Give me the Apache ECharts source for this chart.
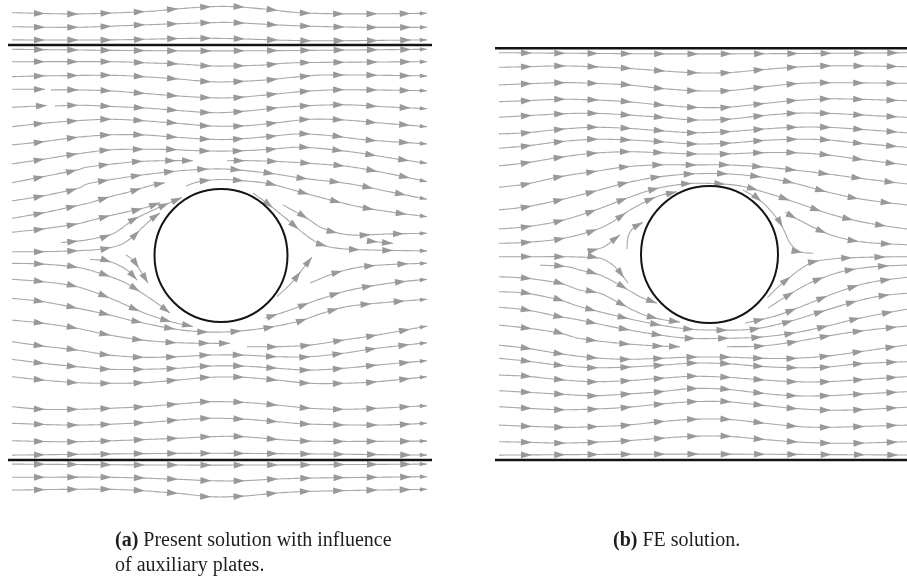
<!DOCTYPE html>
<html>
<head>
<meta charset="utf-8">
<script src="https://cdn.jsdelivr.net/npm/echarts@6/dist/echarts.min.js"></script>
<style>
  html, body { margin: 0; padding: 0; background: #ffffff; }
  #chart { width: 907px; height: 581px; }
</style>
</head>
<body>
<div id="chart"></div>
<script>
// Flow past a cylinder between two plates. Coordinates are measured from the
// cylinder centre (x downstream, y up). Every streamline is a flat list
// [x0, y0, x1, y1, ...] of points along it, in flow direction.

// ---------- (a) present solution ----------
const cylinderA = [0, 0, 33.25];          // centre x, centre y, radius
const platesA = [105.25, -102.25];        // plate y positions
const plateSpanA = [-106.5, 105.5];       // plate x extent

const aUpperRows = [
  [-104.5,121.4, -72,120.8, -39,121.9, -22,123.3, -5.5,124.4, 7,124.4, 23,123.1, 39.5,121.4, 64.5,120.8, 103,121.1],
  [-104.5,114.4, -72,114.1, -39,115.3, -5.5,116.4, 7,116.4, 39.5,114.8, 73,114.1, 103,114.1],
  [-104.5,107.8, -55.5,107.8, -5.5,108.6, 44.5,107.4, 103,107.8],
  [-104.5,103.1, -5.5,102.3, 103,103.1],
  [-104.5,96.9, -55.5,96.9, -39,96.4, -22,95.8, -5.5,94.8, 6,94.8, 23,95.3, 39.5,96.4, 103,96.9],
  [-104.5,89.4, -89,89.8, -55.5,90.1, -39,89.4, -22,88.3, -5.5,86.9, 6,86.9, 23,87.8, 39.5,89.4, 56,90.3, 103,89.8],
  [-104.5,83.1, -88,83.1],
  [-85,82.8, -72,82.8, -55.5,82.3, -39,81.1, -22,79.8, -5.5,78.9, 6,78.9, 23,80.3, 39.5,81.9, 56,82.8, 73,82.8, 103,82.4],
  [-104.5,74.1, -87,75],
  [-83,74.8, -69,75.1, -52,74.4, -35.5,73.6, -19,72.3, -2,71.4, 14.5,72.4, 31,74.1, 48,75.1, 64.5,75.3, 81,74.4, 103,73.4],
  [-104.5,64.4, -89,66.1, -72,67.4, -55.5,68.1, -39,67.4, -22,66.1, -5.5,64.8, 11,64.8, 28,66.4, 44.5,68.1, 61,67.8, 78,66.4, 103,64.4],
  [-104.5,55.3, -89,56.9, -72,59.1, -55.5,60.3, -39,60.3, -22,59.1, -5.5,58.1, 6,58.1, 23,59.4, 39.5,60.8, 56,59.8, 73,57.8, 103,55.8],
  [-104.5,45.8, -89,48.1, -72,50.8, -55.5,52.8, -42,53.1, -25.5,53, -9,52.3, 8,52.3, 24.5,53.1, 41,54.1, 64.5,51.9, 84.5,48.8, 103,46.1],
  [-104.5,36.4, -89,39.4, -72,42.8, -65.5,44.4, -42,46.9, -25.5,47.4, -14,47.4],
  [3,47.4, 14.5,47.4, 31,46.9, 48,45.8, 64.5,44.4, 84.5,40.8, 103,36.9],
  [-104.5,27.3, -89,29.8, -72,33.5, -65.5,36.1, -45.5,39.4, -25.5,41.9, -9,43.1, 4.5,43.1, 24.5,41.1, 41,38.6, 64.5,35.8, 84.5,31.8, 103,28.1]
];

const aNearLines = [
  [-104.5,18.6, -89,21.3, -72,24.9, -65.5,26.4, -55.5,29.4, -45.5,31.9, -35.5,34.9, -28,36.4],
  [-104.5,11.6, -89,13.3, -72,15.8, -65.5,17.4, -54,20.3, -39,23.6, -30.5,26.4],
  [-80,6.4, -67,7.8, -55.5,10.3, -50.5,13, -46.5,16, -44,17.8, -37,21.3, -27,25.8, -19.5,29],
  [-104.5,1.9, -89,1.9, -72,2.4, -60.5,3.1, -50.5,5.3, -44,9.4, -40.5,12.8, -37,16.1, -34,18.8, -30.5,21.3],
  [-17.5,34.8, -10.5,37, 0.5,38, 12,37.3, 24.5,35.8, 39.5,31.8, 54.5,27.8, 69.5,24.3, 84.5,21.8, 103,19.4],
  [31,25.3, 43,18.6, 51,13.6, 64.5,10.3, 84.5,10.8, 103,11.1],
  [16,31.3, 26,23.8, 34.5,16.8, 41,11.3, 48.5,6.3, 57,3.8, 73,2.8, 103,2.3],
  [73,7.3, 86,6],
  [-47.5,0.3, -44,-2.3, -40.5,-7.3, -38,-11.3, -36.5,-13.8],
  [-65.5,-1.9, -55.5,-3.1, -47,-7.3, -42,-12.3],
  [-104.5,-3.9, -89,-4.3, -72,-5.9, -60.5,-8.9, -49,-13.1, -40.5,-18.1, -32,-23.9, -25.5,-28.8],
  [-104.5,-11.9, -89,-13.1, -72,-15.6, -55.5,-21.3, -39,-28.5, -25.5,-33, -14,-35.5],
  [28,-20.5, 35,-14, 41,-6.5, 45.5,-0.8],
  [44.5,-13.8, 57,-8.8, 69.5,-5.8, 84.5,-4.5, 103,-3.9],
  [22,-31.3, 34.5,-27.3, 48,-22.3, 64.5,-17.3, 84.5,-13.8, 103,-11.9]
];

const aLowerRows = [
  [-104.5,-21.4, -89,-23.1, -72,-26.3, -55.5,-29.8, -45.5,-32.3, -25.5,-36.4, -10.5,-38.1, 4.5,-38.1, 21,-36.4, 38,-33.1, 51,-28.8, 64.5,-25.3, 84.5,-23.3, 103,-21.9],
  [-104.5,-32.3, -89,-33.9, -72,-36.4, -55.5,-39.8, -39,-42.3, -22,-43.6, -5.5,-43.9, 4.5,-43.9],
  [13,-45.6, 28,-45.6, 44.5,-44.8, 61,-42.3, 78,-39.8, 103,-35.3],
  [-104.5,-43.1, -89,-45.3, -72,-47.3, -55.5,-49.8, -39,-50.9, -22,-50.6, -5.5,-49.8, 11,-49.8, 28,-50.6, 44.5,-50.6, 61,-48.9, 78,-46.4, 103,-43.6],
  [-104.5,-51.9, -89,-53.9, -72,-55.6, -55.5,-56.9, -39,-56.9, -22,-56.4, -5.5,-55.3, 11,-55.3, 28,-56.4, 44.5,-57.3, 61,-56.4, 78,-54.8, 103,-52.6],
  [-104.5,-60.6, -89,-62.3, -72,-63.6, -55.5,-63.9, -39,-63.6, -22,-62.3, -5.5,-60.9, 11,-60.9, 28,-62.3, 44.5,-63.9, 61,-63.9, 78,-63.1, 103,-60.6],
  [-104.5,-75.6, -89,-76.9, -72,-76.9, -55.5,-76.4, -39,-75.6, -22,-74.3, -5.5,-73.1, 11,-73.4, 28,-74.8, 44.5,-76.4, 61,-76.9, 78,-76.4, 103,-75.1],
  [-104.5,-83.9, -72,-84.8, -39,-83.6, -22,-82.3, -5.5,-81.4, 11,-81.8, 28,-83.1, 44.5,-84.3, 78,-84.8, 103,-83.9],
  [-104.5,-92.6, -72,-93.1, -22,-91.4, -5.5,-90.6, 11,-90.6, 44.5,-92.8, 103,-92.8],
  [-104.5,-99.8, -5.5,-98.9, 103,-99.8],
  [-104.5,-104.3, -5.5,-104.8, 103,-104.3],
  [-104.5,-110.9, -55.5,-110.9, -22,-111.9, -5.5,-112.6, 11,-112.6, 39.5,-111.4, 103,-110.6],
  [-104.5,-117.3, -55.5,-116.9, -22,-118.9, -5.5,-120.6, 11,-120.3, 39.5,-118.1, 103,-116.9]
];

// ---------- (b) FE solution ----------
const cylinderB = [0, 0, 34.25];
const platesB = [103.1, -102.75];
const plateSpanB = [-107.25, 112];

const bUpperRows = [
  [-105.25,100.9, -4.75,100.3, 105.25,100.9],
  [-105.25,93.6, -91.25,93.9, -74.75,94.3, -58.25,93.9, -41.25,93.1, -24.75,91.9, -8.25,90.9, 8.75,90.9, 25.25,92.3, 41.75,93.6, 58.75,94.3, 75.25,94.3, 98.75,93.9, 105.25,93.9],
  [-105.25,84.8, -74.75,85.9, -58.25,85.6, -41.25,84.8, -24.75,83.1, -8.25,81.9, 8.75,81.9, 25.25,83.6, 41.75,85.3, 58.75,85.9, 98.75,85.6, 105.25,85.6],
  [-105.25,76.4, -91.25,76.9, -74.75,77.6, -58.25,77.3, -41.25,76.4, -24.75,74.8, -8.25,73.6, 8.75,73.6, 25.25,75.3, 41.75,76.9, 58.75,77.8, 75.25,77.6, 98.75,76.9, 105.25,76.9],
  [-105.25,68.6, -74.75,70.3, -58.25,70.6, -41.25,69.8, -24.75,68.6, -8.25,67.3, 8.75,67.6, 25.25,69.3, 41.75,70.6, 58.75,70.6, 75.25,69.8, 98.75,68.6, 105.25,68.6],
  [-105.25,60.3, -91.25,60.9, -74.75,62.6, -58.25,63.6, -41.25,63.1, -24.75,61.9, -8.25,60.9, 8.75,61.4, 25.25,62.6, 41.75,63.6, 58.75,63.6, 75.25,62.6, 98.75,60.9, 105.25,60.9],
  [-105.25,53.1, -91.25,54.3, -74.75,56.4, -58.25,57.6, -41.25,57.3, -24.75,56.4, -8.25,55.3, 8.75,55.6, 25.25,56.9, 41.75,57.6, 58.75,57.3, 75.25,55.6, 98.75,53.6, 105.25,53.6],
  [-105.25,44.3, -91.25,45.9, -74.75,48.6, -58.25,50.6, -41.25,51.4, -24.75,50.9, -8.25,50.3, 8.75,50.3, 25.25,50.9, 41.75,50.9, 58.75,49.8, 75.25,47.6, 98.75,44.8, 105.25,44.8],
  [-105.25,33.6, -91.25,35.3, -74.75,38.9, -58.25,41.4, -41.25,43.9, -24.75,44.8, -8.25,44.8, 8.75,44.8, 25.25,43.9, 41.75,42.3, 58.75,40.3, 75.25,38.1, 98.75,35.3, 105.25,35.3],
  [-105.25,22.3, -91.25,23.9, -74.75,27.3, -58.25,31.4, -41.25,35.9, -24.75,38.9, -8.25,40.3, 8.75,40.3, 25.25,38.8, 41.75,35.8, 58.75,31.3, 75.25,27.8, 98.75,24.8, 105.25,24.8],
  [-105.25,12.8, -91.25,13.9, -74.75,16.8, -58.25,21.8, -42.25,27.8, -27.25,32.8, -12.25,35.3, 1.25,35.5, 15.25,34.3, 30.25,30.3, 45.25,25.3, 61.75,19.8, 78.75,15.8, 98.75,12.8, 105.25,12.8]
];

const bNearLines = [
  [-105.25,5.6, -91.25,6.1, -74.75,7.8, -59.75,11.4, -49.75,15.6, -38.25,23.1, -26.25,28.9, -16.25,31.4],
  [-59.75,2.3, -53.25,3.6, -44.75,9.8],
  [-41.25,2.8, -40.75,8.8, -38.25,13.1, -33.25,16.1],
  [37.75,21.3, 43.75,17.8, 55.25,12, 65.25,8.4, 78.75,6, 98.75,4.9, 105.25,4.8],
  [16.75,32.3, 26.75,25.8, 35.25,15.8, 40.25,5.8, 45.25,1.4, 51.75,0.6],
  [-105.25,-1.1, -91.25,-1.1, -74.75,-1.1, -64.75,-1.3, -54.75,-1.9, -48.25,-5.3, -43.75,-10.3, -40.75,-14.3],
  [-84.75,-5.3, -71.25,-6.1, -64.75,-7.8, -54.75,-10.3, -44.75,-15.3, -34.75,-21.1, -26.25,-24.4],
  [-105.25,-11.1, -91.25,-11.9, -74.75,-14.4, -64.75,-17.8, -54.75,-19.4, -44.75,-24.4, -34.75,-29.4, -24.75,-32.3, -14.75,-33.8],
  [29,-21.5, 34.25,-16.3, 40.25,-11.3, 46.25,-6.8, 52.75,-3.5, 65.25,-1.9, 81.75,-1.3, 98.75,-1.1, 105.25,-1.1],
  [29.25,-26.8, 40.25,-19.8, 51.25,-13.8, 65.25,-8.8, 80.25,-6.3, 98.75,-5.3, 105.25,-5.3],
  [17.75,-34.3, 32.75,-30.8, 47.75,-25.3, 62.75,-19.3, 78.75,-14.3, 98.75,-11.4, 105.25,-11.4]
];

const bLowerRows = [
  [-105.25,-18.6, -91.25,-19.4, -74.75,-22.8, -64.75,-26.1, -44.75,-31.1, -24.75,-35.3, -9.75,-37.3, 5.25,-37.8, 21.75,-37.3, 38.75,-33.8, 55.25,-28.8, 71.75,-23.8, 85.25,-20.8, 98.75,-19.4, 105.25,-19.4],
  [-105.25,-26.4, -91.25,-27.8, -74.75,-31.1, -64.75,-32.8, -44.75,-36.9, -24.75,-40.3, -9.75,-41.9, 8.75,-41.9, 25.25,-41.3, 41.75,-39.3, 58.75,-35.8, 75.25,-31.8, 98.75,-27.4, 105.25,-27.4],
  [-105.25,-35.3, -91.25,-36.8, -74.75,-39.3, -64.75,-42, -44.75,-44.4, -24.75,-45.8, -14.75,-46.1],
  [8.75,-46.1, 25.25,-45.8, 41.75,-43.8, 58.75,-40.8, 75.25,-38.3, 98.75,-35.8, 105.25,-35.8],
  [-105.25,-45.3, -91.25,-46.9, -74.75,-49.6, -58.25,-51.6, -41.25,-52.4, -24.75,-51.9, -8.25,-51.3, 8.75,-51.3, 25.25,-51.9, 41.75,-51.9, 58.75,-50.8, 75.25,-48.6, 98.75,-45.3, 105.25,-45.3],
  [-105.25,-51.9, -91.25,-53.3, -74.75,-55.4, -58.25,-56.6, -41.25,-56.3, -24.75,-55.4, -8.25,-54.3, 8.75,-54.6, 25.25,-55.9, 41.75,-56.6, 58.75,-56.3, 75.25,-54.6, 98.75,-53.6, 105.25,-53.6],
  [-105.25,-60.3, -91.25,-60.9, -74.75,-62.6, -58.25,-63.6, -41.25,-63.1, -24.75,-61.9, -8.25,-60.9, 8.75,-61.4, 25.25,-62.6, 41.75,-63.6, 58.75,-63.6, 75.25,-62.6, 98.75,-61.1, 105.25,-61.1],
  [-105.25,-68.1, -74.75,-69.8, -58.25,-70.6, -41.25,-69.8, -24.75,-68.6, -8.25,-67, 8.75,-67.4, 25.25,-69.3, 41.75,-70.6, 58.75,-70.6, 75.25,-69.8, 98.75,-68.6, 105.25,-68.6],
  [-105.25,-76.1, -91.25,-76.9, -74.75,-77.6, -58.25,-77.3, -41.25,-76.4, -24.75,-74.8, -8.25,-73.6, 8.75,-73.6, 25.25,-75.3, 41.75,-76.9, 58.75,-77.8, 75.25,-77.6, 98.75,-76.4, 105.25,-76.4],
  [-105.25,-85.3, -74.75,-86.4, -58.25,-86.1, -41.25,-85.3, -24.75,-83.6, -8.25,-82.4, 8.75,-82.4, 25.25,-84.1, 41.75,-85.8, 58.75,-86.4, 98.75,-85.3, 105.25,-85.3],
  [-105.25,-93.6, -91.25,-93.9, -74.75,-94.3, -58.25,-93.9, -41.25,-93.1, -24.75,-91.9, -8.25,-90.9, 8.75,-90.9, 25.25,-92.3, 41.75,-93.6, 58.75,-94.3, 75.25,-94.3, 98.75,-93.6, 105.25,-93.6],
  [-105.25,-100.3, -4.75,-99.8, 105.25,-100.3]
];

const captionA = ['(a)', 'Present solution with influence', 'of auxiliary plates.'];
const captionB = ['(b)', 'FE solution.'];

// ---------- drawing ----------
const LINE_COLOR = '#a8a8a8';
const ARROW_COLOR = '#999999';
const INK = '#141414';
const ARROW_GAP = 33.3;     // px between arrowheads along a streamline
const SERIF = '"Liberation Serif", "Times New Roman", serif';

function densify(pts) {
  if (pts.length < 2) return pts.slice();
  const out = [pts[0]];
  for (let i = 0; i < pts.length - 1; i++) {
    const p0 = pts[i - 1] || pts[i], p1 = pts[i], p2 = pts[i + 1], p3 = pts[i + 2] || pts[i + 1];
    const n = Math.max(2, Math.ceil(Math.hypot(p2[0] - p1[0], p2[1] - p1[1]) / 2.5));
    for (let k = 1; k <= n; k++) {
      const t = k / n, t2 = t * t, t3 = t2 * t;
      const f = (a, b, c, d) => 0.5 * (2 * b + (-a + c) * t + (2 * a - 5 * b + 4 * c - d) * t2 + (-a + 3 * b - 3 * c + d) * t3);
      out.push([f(p0[0], p1[0], p2[0], p3[0]), f(p0[1], p1[1], p2[1], p3[1])]);
    }
  }
  return out;
}

function arrowHead(p, dir, scale) {
  const L = 11 * scale, W = 3.4 * scale;
  const bx = p[0] - dir[0] * L, by = p[1] - dir[1] * L;
  return {
    type: 'polygon',
    shape: { points: [[p[0], p[1]], [bx - dir[1] * W, by + dir[0] * W], [bx + dir[1] * W, by - dir[0] * W]] },
    style: { fill: ARROW_COLOR }
  };
}

function streamRenderer(lines, arrowOriginX, rightEdgeX) {
  return function (params, api) {
    const line = lines[api.value(2)];
    const pts = [];
    for (let i = 0; i < line.length; i += 2) pts.push(api.coord([line[i], line[i + 1]]));
    const dense = densify(pts);
    const cum = [0];
    for (let i = 1; i < dense.length; i++) {
      cum.push(cum[i - 1] + Math.hypot(dense[i][0] - dense[i - 1][0], dense[i][1] - dense[i - 1][1]));
    }
    const total = cum[cum.length - 1];
    const at = function (s) {
      let i = 1;
      while (i < cum.length - 1 && cum[i] < s) i++;
      const a = dense[i - 1], b = dense[i];
      const seg = cum[i] - cum[i - 1] || 1;
      const u = Math.min(1, Math.max(0, (s - cum[i - 1]) / seg));
      const dx = b[0] - a[0], dy = b[1] - a[1], len = Math.hypot(dx, dy) || 1;
      return { p: [a[0] + dx * u, a[1] + dy * u], d: [dx / len, dy / len] };
    };
    const children = [{
      type: 'polyline',
      shape: { points: dense },
      style: { stroke: LINE_COLOR, lineWidth: 1.1, fill: null }
    }];
    const gx = api.coord([arrowOriginX, 0])[0];
    let s = ((gx - pts[0][0]) % ARROW_GAP + ARROW_GAP) % ARROW_GAP;
    if (s < 8) s += ARROW_GAP;
    let last = -1e9;
    for (; s <= total - 4; s += ARROW_GAP) {
      const q = at(s);
      children.push(arrowHead(q.p, q.d, 1));
      last = s;
    }
    if (total - last > 13) {
      const q = at(total);
      const edge = line[line.length - 2] >= rightEdgeX - 1;
      children.push(arrowHead(q.p, q.d, edge ? 0.65 : 1));
    }
    return { type: 'group', children: children };
  };
}

function circleRenderer(cyl) {
  return function (params, api) {
    const c = api.coord([cyl[0], cyl[1]]);
    const r = api.size([cyl[2], 0])[0];
    return {
      type: 'circle',
      shape: { cx: c[0], cy: c[1], r: r },
      style: { fill: '#ffffff', stroke: INK, lineWidth: 2 }
    };
  };
}

function panelSeries(idx, lines, cyl, plates, span, arrowOriginX, rightEdgeX) {
  const list = [{
    type: 'custom',
    xAxisIndex: idx, yAxisIndex: idx,
    clip: false, silent: true,
    renderItem: streamRenderer(lines, arrowOriginX, rightEdgeX),
    data: lines.map((l, i) => [0, 0, i]),
    z: 2
  }, {
    type: 'custom',
    xAxisIndex: idx, yAxisIndex: idx,
    clip: false, silent: true,
    renderItem: circleRenderer(cyl),
    data: [[cyl[0], cyl[1], 0]],
    z: 3
  }];
  plates.forEach(function (y) {
    list.push({
      type: 'line',
      xAxisIndex: idx, yAxisIndex: idx,
      data: [[span[0], y], [span[1], y]],
      symbol: 'none', silent: true,
      lineStyle: { color: INK, width: 2.5 },
      z: 4
    });
  });
  return list;
}

const linesA = aUpperRows.concat(aNearLines, aLowerRows);
const linesB = bUpperRows.concat(bNearLines, bLowerRows);

const chart = echarts.init(document.getElementById('chart'), null, { renderer: 'canvas' });

const valueAxis = (min, max, grid) => ({ type: 'value', min: min, max: max, show: false, gridIndex: grid });
const captionStyle = {
  fontFamily: SERIF, fontSize: 20, fontWeight: 'normal', color: '#1e1e1e', lineHeight: 25,
  rich: { b: { fontFamily: SERIF, fontSize: 20, fontWeight: 'bold', color: '#1e1e1e', lineHeight: 25 } }
};

chart.setOption({
  animation: false,
  backgroundColor: '#ffffff',
  title: [{
    text: '{b|' + captionA[0] + '} ' + captionA[1] + '\n' + captionA[2],
    left: 115, top: 528, padding: 0,
    textStyle: captionStyle
  }, {
    text: '{b|' + captionB[0] + '} ' + captionB[1],
    left: 613, top: 528, padding: 0,
    textStyle: captionStyle
  }],
  grid: [
    { left: 1, top: 5.5, width: 440, height: 500, containLabel: false, outerBoundsMode: 'none' },
    { left: 489.5, top: 4.5, width: 440, height: 500, containLabel: false, outerBoundsMode: 'none' }
  ],
  xAxis: [valueAxis(-110, 110, 0), valueAxis(-110, 110, 1)],
  yAxis: [valueAxis(-125, 125, 0), valueAxis(-125, 125, 1)],
  series: [].concat(
    panelSeries(0, linesA, cylinderA, platesA, plateSpanA, -88, 103),
    panelSeries(1, linesB, cylinderB, platesB, plateSpanB, -88.75, 105)
  )
});
</script>
</body>
</html>
